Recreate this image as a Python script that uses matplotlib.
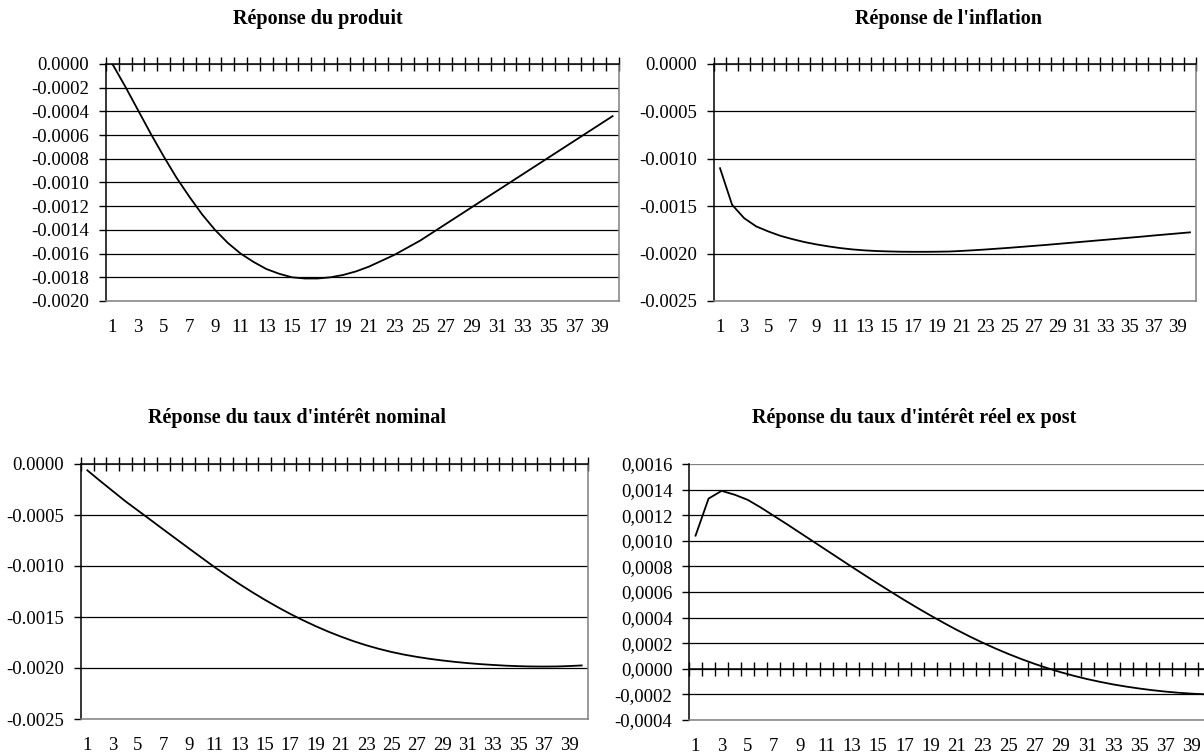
import matplotlib
matplotlib.use("Agg")
import matplotlib.pyplot as plt
import numpy as np

plt.rcParams['font.family'] = ['Liberation Serif', 'DejaVu Serif']

periodes = list(range(1, 41))

produit = [0.0, -0.00019, -0.00039, -0.00059, -0.00078, -0.00096, -0.00112, -0.00127,
           -0.00140, -0.00151, -0.00160, -0.00167, -0.00173, -0.00177, -0.00180, -0.00181,
           -0.00181, -0.00180, -0.00178, -0.00175, -0.00171, -0.00166, -0.00161, -0.00155,
           -0.00149, -0.00142, -0.00135, -0.00128, -0.00121, -0.00114, -0.00107, -0.00100,
           -0.00093, -0.00086, -0.00079, -0.00072, -0.00065, -0.00058, -0.00051, -0.00044]

inflation = [-0.001099, -0.001485, -0.001626, -0.001713, -0.001766, -0.001812, -0.001847, -0.001878,
             -0.001903, -0.001924, -0.001942, -0.001956, -0.001966, -0.001973, -0.001977, -0.001980,
             -0.001981, -0.001981, -0.001980, -0.001978, -0.001972, -0.001965, -0.001957, -0.001948,
             -0.001939, -0.001929, -0.001919, -0.001909, -0.001898, -0.001887, -0.001876, -0.001865,
             -0.001854, -0.001843, -0.001832, -0.001821, -0.001809, -0.001798, -0.001787, -0.001776]

taux_nominal = [-0.000062, -0.000165, -0.000265, -0.000365, -0.000457, -0.000549, -0.000642, -0.000734,
                -0.000826, -0.000917, -0.001008, -0.001094, -0.001177, -0.001256, -0.001331, -0.001402,
                -0.001469, -0.001531, -0.001589, -0.001643, -0.001692, -0.001737, -0.001777, -0.001812,
                -0.001843, -0.001869, -0.001891, -0.001910, -0.001926, -0.001940, -0.001952, -0.001962,
                -0.001970, -0.001977, -0.001982, -0.001985, -0.001986, -0.001985, -0.001981, -0.001975]

taux_reel = [0.00104, 0.00133, 0.00139, 0.00136, 0.00132, 0.00126, 0.001195, 0.00113,
             0.001063, 0.000996, 0.000929, 0.000862, 0.000795, 0.000729, 0.000664, 0.000600,
             0.000537, 0.000476, 0.000417, 0.000360, 0.000305, 0.000253, 0.000204, 0.000158,
             0.000115, 0.000075, 0.000038, 0.000004, -0.000027, -0.000055, -0.000080, -0.000102,
             -0.000122, -0.000139, -0.000154, -0.000167, -0.000178, -0.000187, -0.000194, -0.000199]

titres = ["Réponse du produit", "Réponse de l'inflation",
          "Réponse du taux d'intérêt nominal", "Réponse du taux d'intérêt réel ex post"]

ticks_y = [np.arange(-0.0020, 0.00001, 0.0002),
           np.arange(-0.0025, 0.00001, 0.0005),
           np.arange(-0.0025, 0.00001, 0.0005),
           np.arange(-0.0004, 0.00161, 0.0002)]
virgule = [False, False, False, True]   # le dernier graphique a des virgules

series = [produit, inflation, taux_nominal, taux_reel]

# positions en pixels (gauche, haut, droite, bas) sur une image 1204x754
W, H = 1204.0, 754.0
cadres = [(106, 64, 619, 301),
          (714, 64, 1196, 301),
          (81, 464, 588, 719),
          (689, 464, 1211, 720)]
titres_xy = [(318, 19), (948, 19), (297, 418), (914, 418)]

gris = '#808080'
fig = plt.figure(figsize=(W / 100, H / 100), dpi=100)

for k in range(4):
    g, h, d, b = cadres[k]
    ax = fig.add_axes([g / W, 1 - b / H, (d - g) / W, (b - h) / H])
    ax.plot(periodes, series[k], color='black', lw=1.3, zorder=4)
    ax.set_xlim(0.5, 40.5)
    ax.set_ylim(ticks_y[k][0], ticks_y[k][-1])

    ax.set_yticks(ticks_y[k])
    if virgule[k]:
        ax.set_yticklabels([('%.4f' % v).replace('.', ',').replace('-0,0000', '0,0000') for v in ticks_y[k]])
    else:
        ax.set_yticklabels([('%.4f' % v).replace('-0.0000', '0.0000') for v in ticks_y[k]])

    ax.set_xticks(range(1, 41, 2))
    ax.set_xticklabels([str(i) for i in range(1, 41, 2)])
    ax.set_xticks(np.arange(0.5, 41, 1), minor=True)

    ax.yaxis.grid(True, color='black', linewidth=0.9)
    ax.set_axisbelow(True)
    grilles = ax.get_ygridlines()
    grilles[0].set_color(gris)
    grilles[-1].set_color(gris)

    ax.spines['left'].set_color('black')
    ax.spines['left'].set_linewidth(1.1)
    ax.spines['right'].set_color(gris)
    ax.spines['bottom'].set_color(gris)
    ax.spines['top'].set_position(('data', 0))
    ax.spines['top'].set_color('black')
    ax.spines['top'].set_linewidth(1.1)
    for s in ['right', 'bottom']:
        ax.spines[s].set_linewidth(1.1)

    ax.tick_params(axis='x', which='minor', bottom=False, top=True,
                   direction='inout', length=10, width=1, color='black')
    ax.tick_params(axis='x', which='major', bottom=True, top=False,
                   length=0, pad=13, labelsize=13.5)
    ax.tick_params(axis='y', which='major', left=True, right=False,
                   direction='out', length=5, width=1, color='black',
                   pad=7, labelsize=13.5)

    fig.text(titres_xy[k][0] / W, 1 - titres_xy[k][1] / H, titres[k],
             ha='center', va='center', fontsize=14.5, fontweight='bold')

fig.savefig('out.png', dpi=100)
